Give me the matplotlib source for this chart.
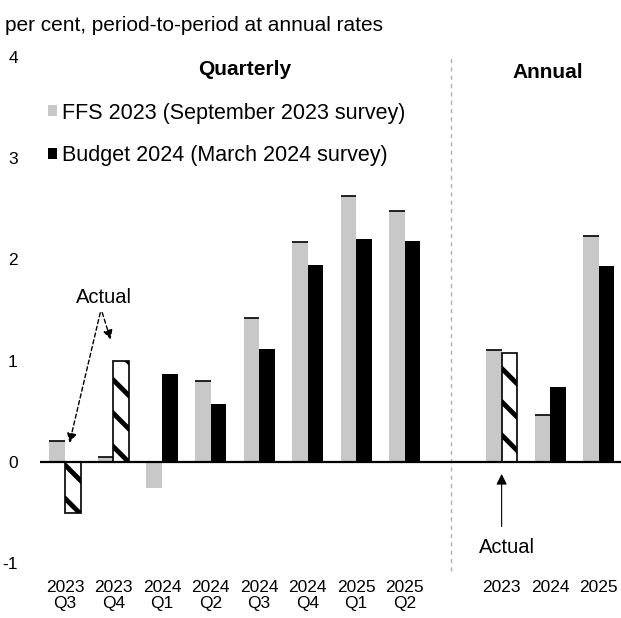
import numpy as np
import matplotlib
matplotlib.use("Agg")
import matplotlib.pyplot as plt
from matplotlib.patches import Patch

plt.rcParams["font.family"] = ["Liberation Sans", "DejaVu Sans"]
plt.rcParams["hatch.linewidth"] = 3.5

# data
quarter_labels = ["2023\nQ3", "2023\nQ4", "2024\nQ1", "2024\nQ2",
                  "2024\nQ3", "2024\nQ4", "2025\nQ1", "2025\nQ2"]
annual_labels = ["2023", "2024", "2025"]
ffs_quarterly = [0.21, 0.05, -0.26, 0.80, 1.42, 2.17, 2.63, 2.48]
budget_quarterly = [-0.51, 1.00, 0.87, 0.57, 1.11, 1.94, 2.20, 2.18]
ffs_annual = [1.10, 0.46, 2.23]
budget_annual = [1.07, 0.74, 1.93]
# which budget bars are actual outcomes (hatched)
actual_quarterly = [True, True, False, False, False, False, False, False]
actual_annual = [True, False, False]

GRAY = "#c8c8c8"
W = 0.32


def main():
    fig = plt.figure(figsize=(6.21, 6.18), dpi=100)
    ax = fig.add_axes([0.0644, 0.089, 0.9356, 0.819])

    xq = np.arange(len(quarter_labels))
    xa = np.arange(len(annual_labels)) + 9
    x = np.concatenate([xq, xa])
    ffs = ffs_quarterly + ffs_annual
    bud = budget_quarterly + budget_annual
    actual = actual_quarterly + actual_annual

    ax.bar(x - W / 2, ffs, W, color=GRAY, linewidth=0, zorder=2)
    # thin black cap on the gray bars
    for xi, v in zip(x, ffs):
        if v > 0:
            ax.hlines(v, xi - W, xi, color="black", lw=1.2, zorder=3)

    for xi, v, a in zip(x, bud, actual):
        if a:
            ax.bar(xi + W / 2, v, W, color="white", edgecolor="black",
                   hatch="\\", linewidth=1.2, zorder=2)
        else:
            ax.bar(xi + W / 2, v, W, color="black", linewidth=0, zorder=2)

    ax.axhline(0, color="black", lw=1.6, zorder=4)
    ax.axvline(7.95, ymin=-0.015, ymax=1.0, color="#b0b0b0", ls=(0, (3, 3)),
               lw=1, clip_on=False)

    ax.set_xlim(-0.515, 11.46)
    ax.set_ylim(-1, 4)
    ax.set_yticks([4, 3, 2, 1, 0, -1])
    ax.set_yticklabels(["4", "3", "2", "1", "0", "-1"])
    ax.set_xticks(x)
    ax.set_xticklabels(quarter_labels + annual_labels, fontsize=12.5,
                       linespacing=1.1)
    ax.tick_params(axis="both", length=0, labelsize=12.5)
    ax.tick_params(axis="y", pad=16)
    ax.tick_params(axis="x", pad=12)
    for s in ax.spines.values():
        s.set_visible(False)

    fig.text(0.008, 0.958, "per cent, period-to-period at annual rates",
             fontsize=15, va="center", ha="left")
    ax.text(3.7, 3.88, "Quarterly", fontsize=15, fontweight="bold",
            ha="center", va="center")
    ax.text(9.95, 3.85, "Annual", fontsize=15, fontweight="bold",
            ha="center", va="center")

    handles = [Patch(facecolor=GRAY, edgecolor="none"),
               Patch(facecolor="black", edgecolor="none")]
    ax.legend(handles, ["FFS 2023 (September 2023 survey)",
                        "Budget 2024 (March 2024 survey)"],
              loc="upper left", bbox_to_anchor=(0.078, 0.834),
              bbox_transform=fig.transFigure, frameon=False, fontsize=15.5,
              handlelength=0.42, handleheight=0.42, handletextpad=0.2,
              labelspacing=1.0, borderpad=0, borderaxespad=0)

    arrow = dict(arrowstyle="-|>", color="black", lw=1, ls=(0, (3, 2)),
                 mutation_scale=14)
    ax.annotate("Actual", xy=(0.08, 0.16), xytext=(0.8, 1.62),
                ha="center", va="center", fontsize=14.5, arrowprops=arrow)
    ax.annotate("", xy=(0.96, 1.18), xytext=(0.75, 1.5),
                arrowprops=arrow)
    ax.annotate("", xy=(9.0, -0.12), xytext=(9.0, -0.64),
                arrowprops=dict(arrowstyle="-|>", color="black", lw=0.8,
                                mutation_scale=16, shrinkA=0, shrinkB=0))
    ax.text(9.1, -0.85, "Actual", fontsize=14.5, ha="center", va="center")

    fig.savefig("out.png", dpi=100)


if __name__ == "__main__":
    main()
